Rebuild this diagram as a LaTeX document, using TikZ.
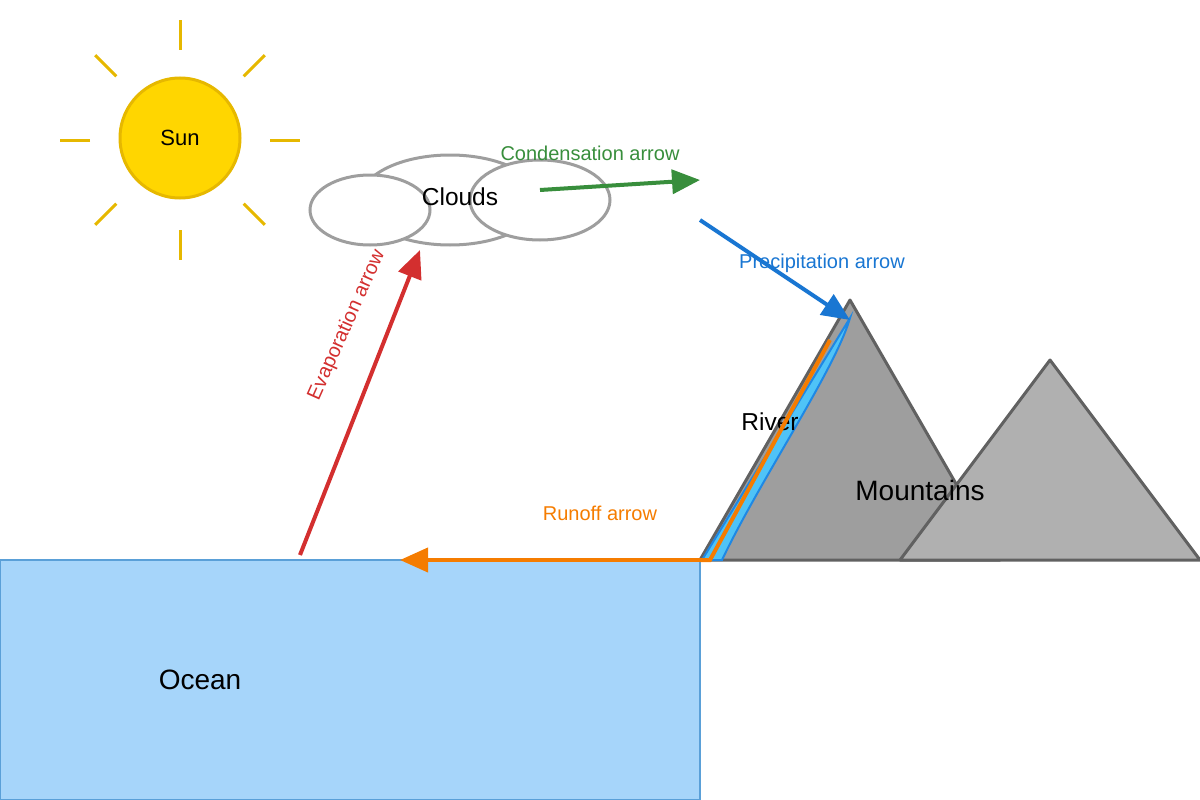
\documentclass[tikz,border=0pt]{standalone}
\usepackage{fontspec}
\setmainfont{Liberation Sans}
\usetikzlibrary{arrows.meta,calc}
\definecolor{sunf}{HTML}{FFD600}\definecolor{suns}{HTML}{E6B800}
\definecolor{cl}{HTML}{9E9E9E}
\definecolor{gr}{HTML}{388E3C}\definecolor{bl}{HTML}{1976D2}
\definecolor{rd}{HTML}{D32F2F}\definecolor{org}{HTML}{F57C00}
\definecolor{oc}{HTML}{A6D5FA}\definecolor{ocs}{HTML}{5AA0D8}
\definecolor{rv}{HTML}{4FC3F7}\definecolor{rvs}{HTML}{1E88E5}
\definecolor{m1}{HTML}{9E9E9E}\definecolor{m2}{HTML}{B0B0B0}\definecolor{ms}{HTML}{616161}
\begin{document}
\begin{tikzpicture}[x=1pt,y=-1pt,
  flow/.style={line width=4pt,-{Triangle[length=28pt,width=24pt]}},
  lbl/.style={font=\fontsize{20}{22}\selectfont},
  ray/.style={suns,line width=3pt},
  cloud/.style={draw=cl,fill=white,line width=3pt},
  mtn/.style={draw=ms,line width=3pt,line join=round}]
\useasboundingbox (0,0) rectangle (1200,800);
% sun
\foreach \a in {0,45,...,315}{\draw[ray] ($(180,140)+(\a:90)$) -- ($(180,140)+(\a:120)$);}
\node[circle,draw=suns,fill=sunf,line width=3pt,minimum size=120pt,inner sep=0,font=\fontsize{22}{24}\selectfont] (sun) at (180,138) {Sun};
% clouds
\draw[cloud] (450,200) ellipse [x radius=90,y radius=45];
\draw[cloud] (370,210) ellipse [x radius=60,y radius=35];
\draw[cloud] (540,200) ellipse [x radius=70,y radius=40];
\node[font=\fontsize{24.5}{26}\selectfont] (clouds) at (460,197) {Clouds};
% ocean
\draw[draw=ocs,fill=oc,line width=2.5pt] (0,560) rectangle (700,800);
\node[font=\fontsize{28}{30}\selectfont] (ocean) at (200,680) {Ocean};
% mountains
\draw[mtn,fill=m1] (700,560) -- (850,300) -- (1000,560) -- cycle;
\draw[mtn,fill=m2] (900,560) -- (1050,360) -- (1200,560) -- cycle;
\draw[draw=rvs,fill=rv,line width=2pt] (702,560) -- (850,318) .. controls (835,370) and (760,480) .. (722,560) -- cycle;
\node[font=\fontsize{24.5}{26}\selectfont] (river) at (770,422) {River};
\node[font=\fontsize{28}{30}\selectfont] (mtns) at (920,490) {Mountains};
% arrows
\coordinate (c1) at (540,190); \coordinate (c2) at (700,180);
\coordinate (p1) at (700,220); \coordinate (p2) at (850,320);
\coordinate (e1) at (300,555); \coordinate (e2) at (420,250);
\coordinate (r0) at (830,340); \coordinate (r1) at (710,560); \coordinate (r2) at (700,560); \coordinate (r3) at (400,560);
\draw[line width=4pt,org] (r0) -- (r1) -- (r2);
\draw[flow,org] (r2) -- (r3);
\draw[flow,gr] (c1) -- (c2);
\draw[flow,bl] (p1) -- (p2);
\draw[flow,rd] (e1) -- (e2);
\node[lbl,text=gr] (cl) at (590,153) {Condensation arrow};
\node[lbl,text=bl] (pl) at (822,263) {Precipitation arrow};
\node[lbl,text=org] (rl) at (600,513) {Runoff arrow};
\node[lbl,text=rd,rotate=66] (el) at (347,325) {Evaporation arrow};
\end{tikzpicture}
\end{document}
